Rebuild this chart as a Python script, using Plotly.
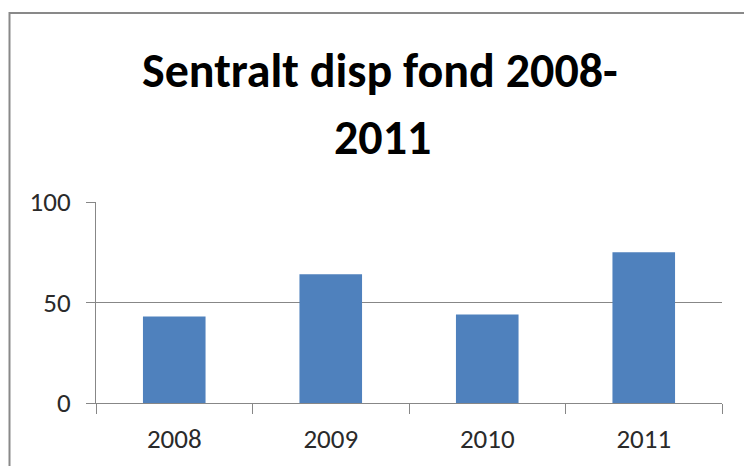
import plotly.graph_objects as go

years = ["2008", "2009", "2010", "2011"]
values = [43, 64, 44, 75]
y_ticks = [0, 50, 100]
title_lines = ["Sentralt disp fond 2008-", "2011"]

FONT = "Carlito, Calibri, 'Liberation Sans', sans-serif"
GRID = "#878787"

fig = go.Figure(go.Bar(x=years, y=values, marker=dict(color="#4F81BD", line=dict(width=0)), width=0.4))

W, H = 744, 466
L, R, T, B = 96, 22, 202, 63
ph = H - T - B
pw = W - L - R

def py(pix):
    return (H - B - pix) / ph

def px(pix):
    return (pix - L) / pw

fig.update_layout(
    width=W, height=H,
    margin=dict(l=L, r=R, t=T, b=B, autoexpand=False),
    paper_bgcolor="white", plot_bgcolor="white",
    showlegend=False,
    font=dict(family=FONT, color="#222222"),
    xaxis=dict(
        type="category", showgrid=False, showline=True, linecolor=GRID, linewidth=1,
        ticks="outside", tickson="boundaries", ticklen=10, tickcolor=GRID,
        ticklabelstandoff=12, automargin=False,
        tickfont=dict(size=27, family=FONT, color="#2a2a2a"),
    ),
    yaxis=dict(
        range=[0, 100], tickvals=y_ticks, showgrid=True, gridcolor=GRID, gridwidth=1,
        showline=True, linecolor=GRID, linewidth=1, zeroline=False,
        ticks="outside", ticklen=9, tickcolor=GRID,
        ticklabelstandoff=10, automargin=False,
        tickfont=dict(size=27, family=FONT, color="#2a2a2a"),
    ),
    shapes=[dict(type="rect", xref="paper", yref="paper",
                 x0=px(9.5), x1=px(770), y0=py(490), y1=py(13),
                 line=dict(color="#898989", width=2), fillcolor="rgba(0,0,0,0)", layer="above")],
    annotations=[
        dict(text=title_lines[0], xref="paper", yref="paper", x=px(380), y=py(70),
             xanchor="center", yanchor="middle", showarrow=False,
             font=dict(size=48, family=FONT, color="black", weight="bold")),
        dict(text=title_lines[1], xref="paper", yref="paper", x=px(382.5), y=py(137),
             xanchor="center", yanchor="middle", showarrow=False,
             font=dict(size=48, family=FONT, color="black", weight="bold")),
    ],
)

fig.write_html("out.html", config={"displayModeBar": False},
               post_script="document.body.style.margin='0';document.body.style.overflow='hidden';")
